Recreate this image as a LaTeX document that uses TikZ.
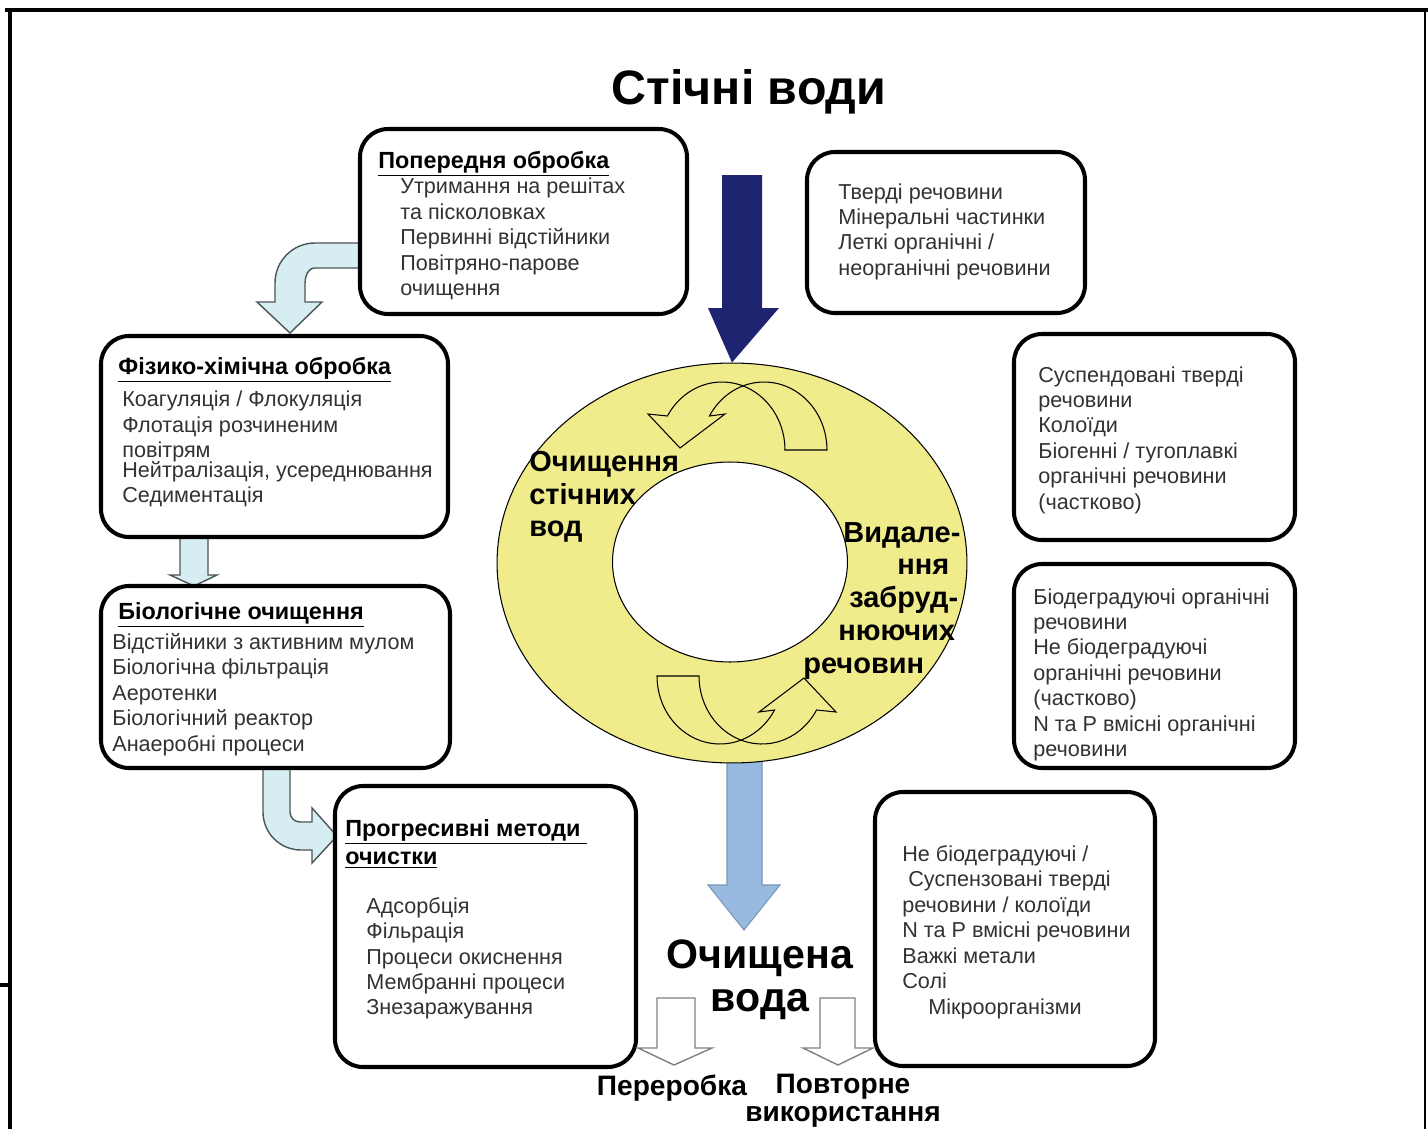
\documentclass[tikz,border=0pt]{standalone}
\usepackage{fontspec}
\setmainfont{Liberation Sans}
\usetikzlibrary{positioning, shapes.geometric, fit}

\definecolor{ringfill}{RGB}{240,236,140}
\definecolor{inflow}{RGB}{30,36,112}
\definecolor{outflow}{RGB}{152,186,225}
\definecolor{pipefill}{RGB}{214,237,242}
\definecolor{pipeline}{RGB}{75,85,88}
\definecolor{itemgray}{RGB}{50,50,50}

\begin{document}
\begin{tikzpicture}[x=0.02cm, y=-0.02cm,
    stage/.style={draw, line width=2.3pt, rounded corners=0.56cm, inner sep=0pt, fill=white},
    items/.style={anchor=north west, align=left, inner sep=0pt, text=itemgray,
      font=\fontsize{12.3}{14.5}\selectfont},
    ringtext/.style={anchor=north west, align=left, inner sep=0pt,
      font=\bfseries\fontsize{16.5}{18.6}\selectfont},
    endtext/.style={align=center, inner sep=0pt, font=\bfseries\fontsize{16}{16.2}\selectfont},
    pipe/.style={draw=pipeline, line width=0.8pt, fill=pipefill},
    turn/.style={draw, line width=0.6pt, fill=ringfill},
    outlet/.style={draw=gray, line width=0.8pt, fill=white}
  ]
  \useasboundingbox (0,0) rectangle (1428,1129);
  % frame
  \draw[line width=2.4pt] (5,10) -- (1428,10);
  \draw[line width=2.2pt] (10,10) -- (10,1129);
  \draw[line width=1.2pt] (1425,10) -- (1425,1129);
  \draw[line width=1.8pt] (0,985) -- (10,985);

  % arrows between the stages
  \draw[pipe] (360,243) -- (315,243) to[out=180,in=90] (275,283) -- (275,302) -- (257,302)
    -- (290,333) -- (322,302) -- (305,302) -- (305,283) to[out=90,in=180] (315,268) -- (360,268) -- cycle;
  \draw[pipe] (180,537) -- (180,575) -- (170,575) -- (194,586) -- (217,575) -- (208,575) -- (208,537) -- cycle;
  \draw[pipe] (263,768) -- (263,812) to[out=-90,in=180] (301,850) -- (312,850) -- (312,863)
    -- (337,836) -- (312,808) -- (312,822) -- (300,822) to[out=180,in=-90] (290,812) -- (290,768) -- cycle;

  % stages
  \node[stage, fit={(360,129) (687,314)}] (pre) {};
  \node[stage, fit={(807,152) (1085,313)}] (solids) {};
  \node[stage, fit={(101,336) (448,537)}] (phys) {};
  \node[stage, fit={(1014,334) (1295,540)}] (susp) {};
  \node[stage, fit={(101,586) (450,768)}] (bio) {};
  \node[stage, fit={(1014,564) (1295,768)}] (biodeg) {};
  \node[stage, fit={(335,786) (636,1067)}] (adv) {};
  \node[stage, fit={(875,792) (1155,1066)}] (rest) {};

  \node[items] (preitems) at (378,151) {{\color{black}\bfseries\fontsize{13.3}{14.5}\selectfont\underline{Попередня обробка}}\\
    \hspace*{0.44cm}Утримання на решітах\\ \hspace*{0.44cm}та пісколовках\\
    \hspace*{0.44cm}Первинні відстійники\\ \hspace*{0.44cm}Повітряно-парове\\
    \hspace*{0.44cm}очищення};
  \node[items] (solidsitems) at (838,183) {Тверді речовини\\ Мінеральні частинки\\
    Леткі органічні /\\ неорганічні речовини};
  \node[items] (physitems) at (118,357) {{\color{black}\bfseries\fontsize{13.3}{14.5}\selectfont\underline{Фізико-хімічна обробка}}\\[4pt]
    \hspace*{0.08cm}Коагуляція / Флокуляція\\ \hspace*{0.08cm}Флотація розчиненим\\
    \hspace*{0.08cm}повітрям\\[-3.4pt] \hspace*{0.08cm}Нейтралізація, усереднювання\\
    \hspace*{0.08cm}Седиментація};
  \node[items] (suspitems) at (1038,366) {Суспендовані тверді\\ речовини\\ Колоїди\\
    Біогенні / тугоплавкі\\ органічні речовини\\ (частково)};
  \node[items] (bioitems) at (112,602) {\hspace*{0.12cm}{\color{black}\bfseries\fontsize{13.3}{14.5}\selectfont\underline{Біологічне очищення}}\\[2.5pt]
    Відстійники з активним мулом\\ Біологічна фільтрація\\ Аеротенки\\
    Біологічний реактор\\ Анаеробні процеси};
  \node[items] (biodegitems) at (1033,588) {Біодеградуючі органічні\\ речовини\\
    Не біодеградуючі\\ органічні речовини\\ (частково)\\ N та P вмісні органічні\\ речовини};
  \node[items] (advitems) at (345,819) {{\color{black}\bfseries\fontsize{13.3}{14.5}\selectfont\underline{Прогресивні методи\ }}\\[1.4pt]
    {\color{black}\bfseries\fontsize{13.3}{14.5}\selectfont\underline{очистки}}\\[13.3pt]
    \hspace*{0.42cm}Адсорбція\\ \hspace*{0.42cm}Фільрація\\ \hspace*{0.42cm}Процеси окиснення\\
    \hspace*{0.42cm}Мембранні процеси\\ \hspace*{0.42cm}Знезаражування};
  \node[items] (restitems) at (902,845) {Не біодеградуючі /\\ \hspace*{0.12cm}Суспензовані тверді\\
    речовини / колоїди\\ N та P вмісні речовини\\ Важкі метали\\ Солі\\
    \hspace*{0.52cm}Мікроорганізми};

  % treatment ring
  \draw[outflow!80!black, line width=0.6pt, fill=outflow] (727,740) -- (727,885) -- (708,885)
    -- (744,930) -- (780,885) -- (762,885) -- (762,740) -- cycle;
  \node[ellipse, draw, line width=0.6pt, fill=ringfill, minimum width=9.4cm, minimum height=8cm] (ring) at (732,563) {};
  \node[ellipse, draw, line width=0.6pt, fill=white, minimum width=4.7cm, minimum height=4cm] (hole) at (730,562) {};
  \foreach \r in {0,180}
    \draw[turn, rotate around={\r:(742,563)}]
      plot[domain=0:-150, samples=40, variable=\t] ({722+63*cos(\t)}, {450+68*sin(\t)})
      -- (648,414) -- (680,448) -- (725,414)
      -- plot[domain=-150:0, samples=40, variable=\t] ({764+63*cos(\t)}, {450+68*sin(\t)}) -- cycle;
  \node[ringtext] (ringleft) at (529,451) {Очищення\\ стічних\\ вод};
  \node[ringtext] (ringright) at (803,522) {\hspace*{0.8cm}Видале-\\ \hspace*{1.88cm}ння\\
    \hspace*{0.92cm}забруд-\\ \hspace*{0.7cm}нюючих\\ речовин};

  % inflow and outflow
  \node[inner sep=0pt, font=\bfseries\fontsize{27.5}{30}\selectfont] (waste) at (749,92) {Стічні води};
  \fill[inflow] (722,175) -- (722,308) -- (708,308) -- (ring.north) -- (779,308) -- (762,308) -- (762,175) -- cycle;
  \node[endtext, font=\bfseries\fontsize{23.4}{24.4}\selectfont] (clean) at (760,980) {Очищена\\ вода};
  \draw[outlet] (657,998) -- (657,1048) -- (638,1048) -- (674,1065) -- (712,1048) -- (695,1048) -- (695,998) -- cycle;
  \draw[outlet] (820,998) -- (820,1048) -- (803,1048) -- (838,1065) -- (873,1048) -- (855,1048) -- (855,998) -- cycle;
  \node[endtext] (recycle) at (672,1088) {Переробка};
  \node[endtext] (reuse) at (843,1101) {Повторне\\ використання};
\end{tikzpicture}
\end{document}
